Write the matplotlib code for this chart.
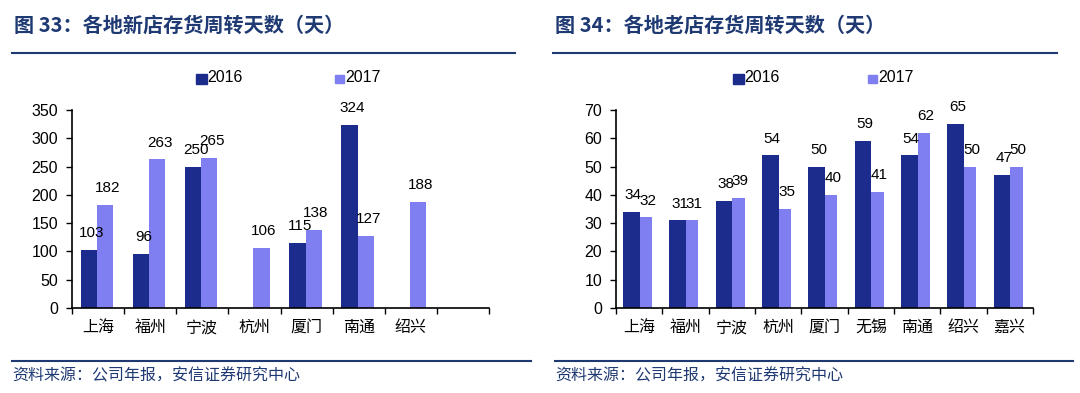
import matplotlib
matplotlib.use("Agg")
import matplotlib.pyplot as plt
from matplotlib.patches import Rectangle
from matplotlib.lines import Line2D
import numpy as np

plt.rcParams['font.family'] = ['Liberation Sans', 'Noto Sans CJK SC', 'DejaVu Sans']

# ---------------- data ----------------
cities_new = ["上海", "福州", "宁波", "杭州", "厦门", "南通", "绍兴", ""]
new_2016 = [103, 96, 250, None, 115, 324, None, None]
new_2017 = [182, 263, 265, 106, 138, 127, 188, None]

cities_old = ["上海", "福州", "宁波", "杭州", "厦门", "无锡", "南通", "绍兴", "嘉兴"]
old_2016 = [34, 31, 38, 54, 50, 59, 54, 65, 47]
old_2017 = [32, 31, 39, 35, 40, 41, 62, 50, 50]

series_names = ["2016", "2017"]
titles = ["图 33：各地新店存货周转天数（天）", "图 34：各地老店存货周转天数（天）"]
source = "资料来源：公司年报，安信证券研究中心"
yticks_new = [0, 50, 100, 150, 200, 250, 300, 350]
yticks_old = [0, 10, 20, 30, 40, 50, 60, 70]

C16 = "#1C2C8C"
C17 = "#7F7FF2"
NAVY = "#1F3A73"
CJK = ['Noto Sans CJK SC', 'DejaVu Sans']

W, H = 1080, 393
fig = plt.figure(figsize=(W / 100, H / 100), dpi=100)


def fx(px):
    return px / W


def fy(py):
    return 1 - py / H


def panel(left_px, cats, v16, v17, yticks, ymax, b16, b17, lab16, lab17):
    ax = fig.add_axes([fx(left_px), fy(308), fx(417), 198 / H])
    n = len(cats)
    x = np.arange(n)
    h16 = [np.nan if v is None else v for v in v16]
    h17 = [np.nan if v is None else v for v in v17]
    ax.bar(x + b16[0], h16, width=b16[1], align='edge', color=C16, linewidth=0)
    ax.bar(x + b17[0], h17, width=b17[1], align='edge', color=C17, linewidth=0)
    for i in range(n):
        if v16[i] is not None:
            ax.annotate(str(v16[i]), (i + lab16, v16[i]), xytext=(0, 12), textcoords='offset points',
                        ha='center', va='center', fontsize=11, color='black')
        if v17[i] is not None:
            ax.annotate(str(v17[i]), (i + lab17, v17[i]), xytext=(0, 12), textcoords='offset points',
                        ha='center', va='center', fontsize=11, color='black')
    ax.set_xlim(0, n)
    ax.set_ylim(0, ymax)
    ax.set_yticks(yticks)
    ax.set_yticklabels([str(t) for t in yticks], fontsize=11.5)
    ax.set_xticks(np.arange(n + 1))
    ax.set_xticklabels([])
    ax.set_xticks(x + 0.5, minor=True)
    ax.set_xticklabels(cats, minor=True, fontsize=11.5, family=CJK)
    ax.tick_params(axis='x', which='minor', length=0, pad=8)
    ax.tick_params(axis='x', which='major', length=4, width=1, direction='out')
    ax.tick_params(axis='y', length=4, width=1, direction='out', pad=6)
    for s in ['top', 'right']:
        ax.spines[s].set_visible(False)
    for s in ['left', 'bottom']:
        ax.spines[s].set_linewidth(1.2)
        ax.spines[s].set_color('black')
    return ax


panel(72, cities_new, new_2016, new_2017, yticks_new, 350,
      (0.17, 0.31), (0.48, 0.31), 0.38, 0.68)
panel(616, cities_old, old_2016, old_2017, yticks_old, 70,
      (0.15, 0.36), (0.51, 0.27), 0.37, 0.68)

# legends
def legend(x16, x17):
    fig.patches.append(Rectangle((fx(x16), fy(84)), fx(11), 10 / H, transform=fig.transFigure,
                                 color=C16, figure=fig))
    fig.text(fx(x16 + 11), fy(78), series_names[0], fontsize=11.5, va='center', ha='left')
    fig.patches.append(Rectangle((fx(x17), fy(83)), fx(9), 8 / H, transform=fig.transFigure,
                                 color=C17, figure=fig))
    fig.text(fx(x17 + 10), fy(78), series_names[1], fontsize=11.5, va='center', ha='left')


legend(196, 335)
legend(733, 868)

# titles and rules
for left, right, t in [(12, 515, titles[0]), (553, 1057, titles[1])]:
    fig.text(fx(left + 2), fy(25), t, fontsize=14.5, fontweight='bold', color=NAVY,
             va='center', ha='left', family=CJK)
    fig.add_artist(Line2D([fx(left), fx(right)], [fy(53), fy(53)], color=NAVY, lw=1.5))

for left, right in [(12, 531), (555, 1073)]:
    fig.add_artist(Line2D([fx(left), fx(right)], [fy(361), fy(361)], color=NAVY, lw=1.5))
    fig.text(fx(left), fy(376), source, fontsize=11.5, color=NAVY, va='center', ha='left',
             family=CJK, style='italic')

fig.savefig("out.png", dpi=100)
